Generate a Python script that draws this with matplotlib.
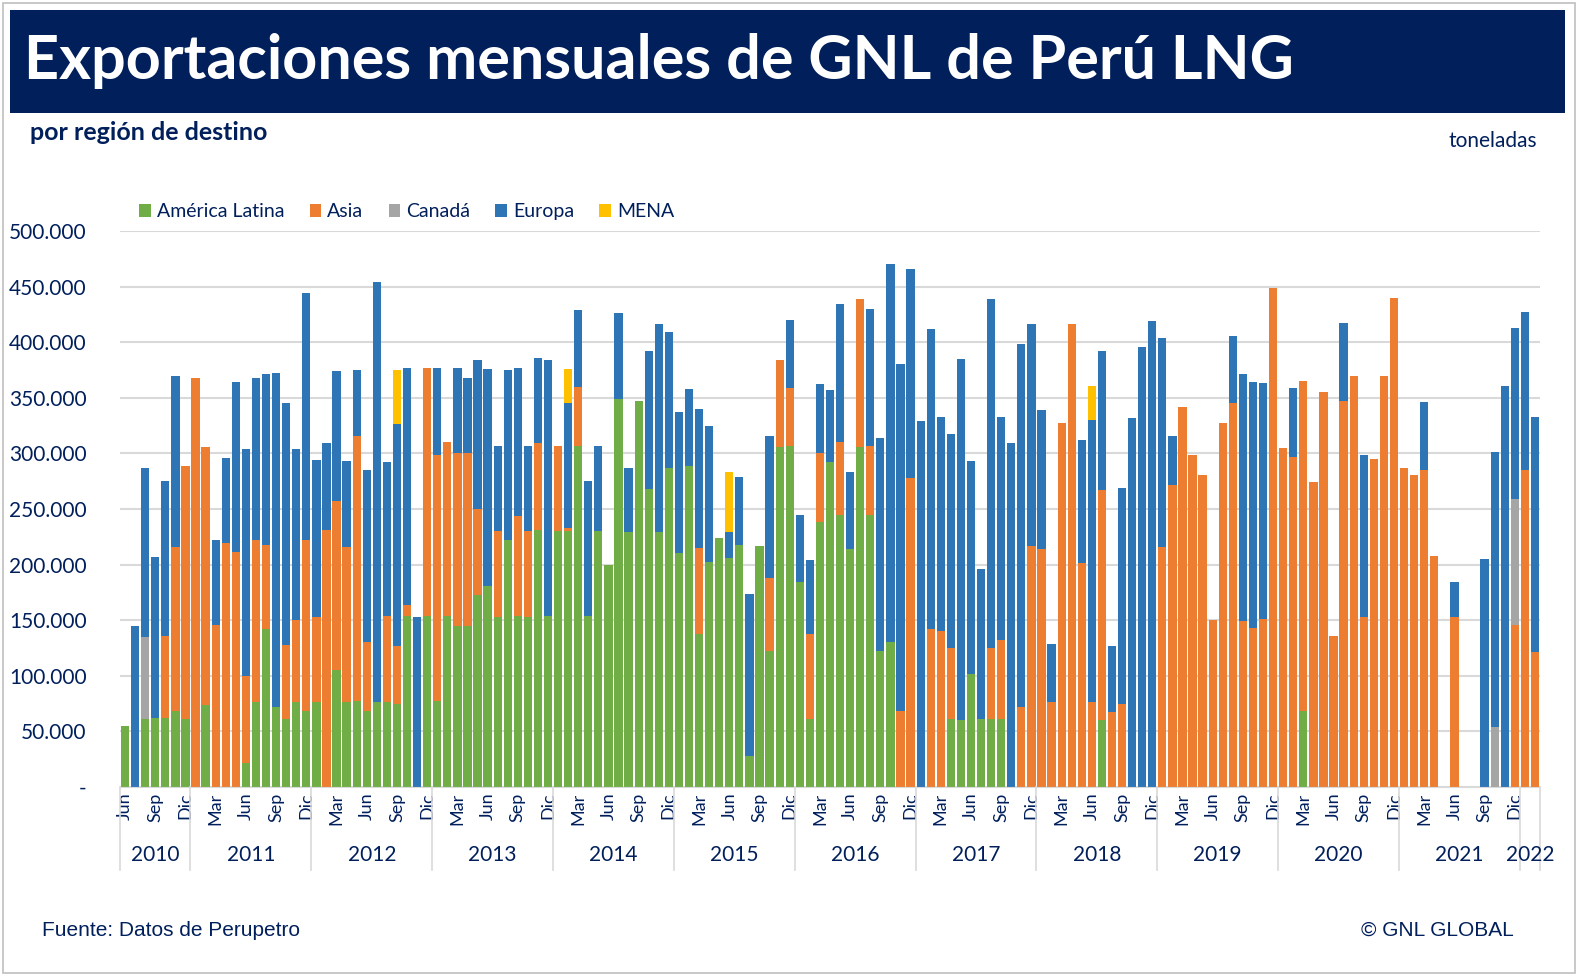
import matplotlib
matplotlib.use("Agg")
import matplotlib.pyplot as plt
import numpy as np
from matplotlib.patches import Rectangle
from matplotlib.ticker import FuncFormatter
from matplotlib.transforms import blended_transform_factory

plt.rcParams['font.family'] = ['Lato', 'DejaVu Sans']

month_names = ['Ene', 'Feb', 'Mar', 'Abr', 'May', 'Jun', 'Jul', 'Ago', 'Sep', 'Oct', 'Nov', 'Dic']
years = ['2010', '2011', '2012', '2013', '2014', '2015', '2016', '2017', '2018', '2019', '2020', '2021', '2022']

latam = [55, 0, 61, 62, 62, 68, 61,
         0, 74, 0, 0, 0, 22, 76, 142, 72, 61, 76, 68,
         76, 0, 105, 76, 77, 68, 76, 76, 75, 154, 0, 154,
         77, 154, 145, 145, 173, 181, 153, 222, 154, 153, 231, 154,
         230, 230, 307, 154, 230, 200, 349, 229, 347, 268, 229, 287,
         210, 289, 138, 202, 224, 206, 218, 28, 217, 122, 306, 307,
         184, 61, 238, 292, 245, 214, 306, 245, 122, 130, 0, 0,
         0, 0, 0, 61, 60, 102, 61, 61, 61, 0, 0, 0,
         0, 0, 0, 0, 0, 0, 60, 0, 0, 0, 0, 0,
         0, 0, 0, 0, 0, 0, 0, 0, 0, 0, 0, 0,
         0, 0, 68, 0, 0, 0, 0, 0, 0, 0, 0, 0,
         0, 0, 0, 0, 0, 0, 0, 0, 0, 0, 0, 0,
         0, 0]
asia_top = [55, 0, 61, 62, 136, 216, 289,
            368, 306, 146, 219, 211, 100, 222, 218, 72, 128, 150, 222,
            153, 231, 257, 216, 316, 130, 76, 154, 127, 164, 0, 377,
            299, 310, 300, 300, 250, 181, 230, 222, 244, 230, 309, 154,
            307, 233, 360, 154, 230, 200, 349, 229, 347, 268, 229, 287,
            210, 289, 215, 202, 224, 206, 218, 28, 217, 188, 384, 359,
            184, 138, 300, 292, 310, 214, 439, 307, 122, 130, 68, 278,
            0, 142, 140, 125, 60, 102, 61, 125, 132, 0, 72, 217,
            214, 76, 327, 416, 201, 76, 267, 67, 75, 0, 0, 0,
            216, 272, 342, 299, 281, 150, 327, 345, 149, 143, 151, 449,
            305, 297, 365, 274, 355, 136, 347, 370, 153, 295, 370, 440,
            287, 281, 285, 208, 0, 153, 0, 0, 0, 0, 0, 146,
            285, 121]
canada_top = list(asia_top)
canada_top[2] = 135
canada_top[136] = 54
canada_top[138] = 259
europa_top = [55, 145, 287, 207, 275, 370, 289,
              368, 306, 222, 296, 364, 304, 368, 371, 372, 345, 304, 444,
              294, 309, 374, 293, 375, 285, 454, 292, 326, 377, 153, 377,
              377, 310, 377, 368, 384, 376, 307, 375, 377, 307, 386, 384,
              307, 345, 429, 275, 307, 200, 426, 287, 347, 392, 416, 409,
              337, 358, 340, 325, 224, 229, 279, 174, 217, 316, 384, 420,
              245, 204, 362, 357, 434, 283, 439, 430, 314, 470, 380, 466,
              329, 412, 333, 317, 385, 293, 196, 439, 333, 309, 398, 416,
              339, 129, 327, 416, 312, 330, 392, 127, 269, 332, 396, 419,
              404, 316, 342, 299, 281, 150, 327, 406, 371, 364, 363, 449,
              305, 359, 365, 274, 355, 136, 417, 370, 299, 295, 370, 440,
              287, 281, 346, 208, 0, 184, 0, 0, 205, 301, 361, 413,
              427, 333]
mena_top = list(europa_top)
mena_top[27] = 375
mena_top[44] = 376
mena_top[60] = 283
mena_top[96] = 361

labels_series = ['América Latina', 'Asia', 'Canadá', 'Europa', 'MENA']
colors = ['#70AD47', '#ED7D31', '#A5A5A5', '#2E75B6', '#FFC000']

latam = np.array(latam) * 1000.0
asia_top = np.maximum(np.array(asia_top) * 1000.0, latam)
canada_top = np.maximum(np.array(canada_top) * 1000.0, asia_top)
europa_top = np.maximum(np.array(europa_top) * 1000.0, canada_top)
mena_top = np.maximum(np.array(mena_top) * 1000.0, europa_top)

n = len(latam)
x = np.arange(n)
bottoms = [np.zeros(n), latam, asia_top, canada_top, europa_top]
tops = [latam, asia_top, canada_top, europa_top, mena_top]

fig = plt.figure(figsize=(15.8, 9.76), dpi=100)
fig.patches.append(Rectangle((0.002, 0.003), 0.995, 0.994, transform=fig.transFigure,
                             fill=False, edgecolor='#BFBFBF', lw=1.2))
fig.patches.append(Rectangle((10/1580, 1-113/976), 1555/1580, 103/976, transform=fig.transFigure,
                             facecolor='#001F5B', edgecolor='none'))
fig.text(24/1580, 1-61/976, 'Exportaciones mensuales de GNL de Perú LNG', color='white',
         fontsize=44, fontweight='bold', va='center', ha='left')
fig.text(30/1580, 1-133/976, 'por región de destino', color='#001F5B', fontsize=18,
         fontweight='bold', va='center', ha='left')
fig.text(1537/1580, 1-141/976, 'toneladas', color='#001F5B', fontsize=15,
         va='center', ha='right')
fig.text(42/1580, 1-930/976, 'Fuente: Datos de Perupetro', color='#001F5B', fontsize=15,
         family=['Liberation Sans', 'DejaVu Sans'], va='center', ha='left')
fig.text(1514/1580, 1-930/976, '© GNL GLOBAL', color='#001F5B', fontsize=15,
         family=['Liberation Sans', 'DejaVu Sans'], va='center', ha='right')

ax = fig.add_axes([120/1580, 1-787/976, 1420/1580, 556/976])
for b, t, c, lab in zip(bottoms, tops, colors, labels_series):
    ax.bar(x, t - b, bottom=b, width=0.82, color=c, label=lab, linewidth=0)

ax.set_xlim(-0.5, n - 0.5)
ax.set_ylim(0, 500000)
ax.set_yticks(np.arange(0, 500001, 50000))
ax.yaxis.set_major_formatter(FuncFormatter(lambda v, p: '-' if v == 0 else f'{int(v):,}'.replace(',', '.')))
ax.grid(axis='y', color='#D9D9D9', lw=1.5)
ax.set_axisbelow(True)
for s in ['top', 'right', 'left']:
    ax.spines[s].set_visible(False)
ax.spines['bottom'].set_color('#D9D9D9')
ax.tick_params(axis='y', length=0, labelsize=15, labelcolor='#001F5B', pad=24)

tick_pos, tick_lab = [], []
for i in range(n):
    m = (5 + i) % 12
    if month_names[m] in ('Mar', 'Jun', 'Sep', 'Dic'):
        tick_pos.append(i)
        tick_lab.append(month_names[m])
ax.set_xticks(tick_pos)
ax.set_xticklabels(tick_lab, rotation=90, fontsize=13, color='#001F5B')
ax.tick_params(axis='x', length=0, pad=4)

trans = blended_transform_factory(ax.transData, ax.transAxes)
start = 0
for k, yr in enumerate(years):
    cnt = 7 if k == 0 else (2 if yr == '2022' else 12)
    end = start + cnt
    ax.text((start + end - 1) / 2, -0.122, yr, transform=trans, ha='center', va='center',
            fontsize=15, color='#001F5B')
    ax.plot([end - 0.5, end - 0.5], [0, -0.15], transform=trans, color='#D9D9D9', lw=1.2,
            clip_on=False)
    start = end
ax.plot([-0.5, -0.5], [0, -0.15], transform=trans, color='#D9D9D9', lw=1.2, clip_on=False)

fig.legend(loc='upper left', bbox_to_anchor=(122/1580, 1-186/976), ncol=5, frameon=False,
           fontsize=14, handlelength=0.6, handleheight=0.6, handletextpad=0.3,
           columnspacing=1.3, labelcolor='#001F5B')

fig.savefig('out.png', dpi=100)
